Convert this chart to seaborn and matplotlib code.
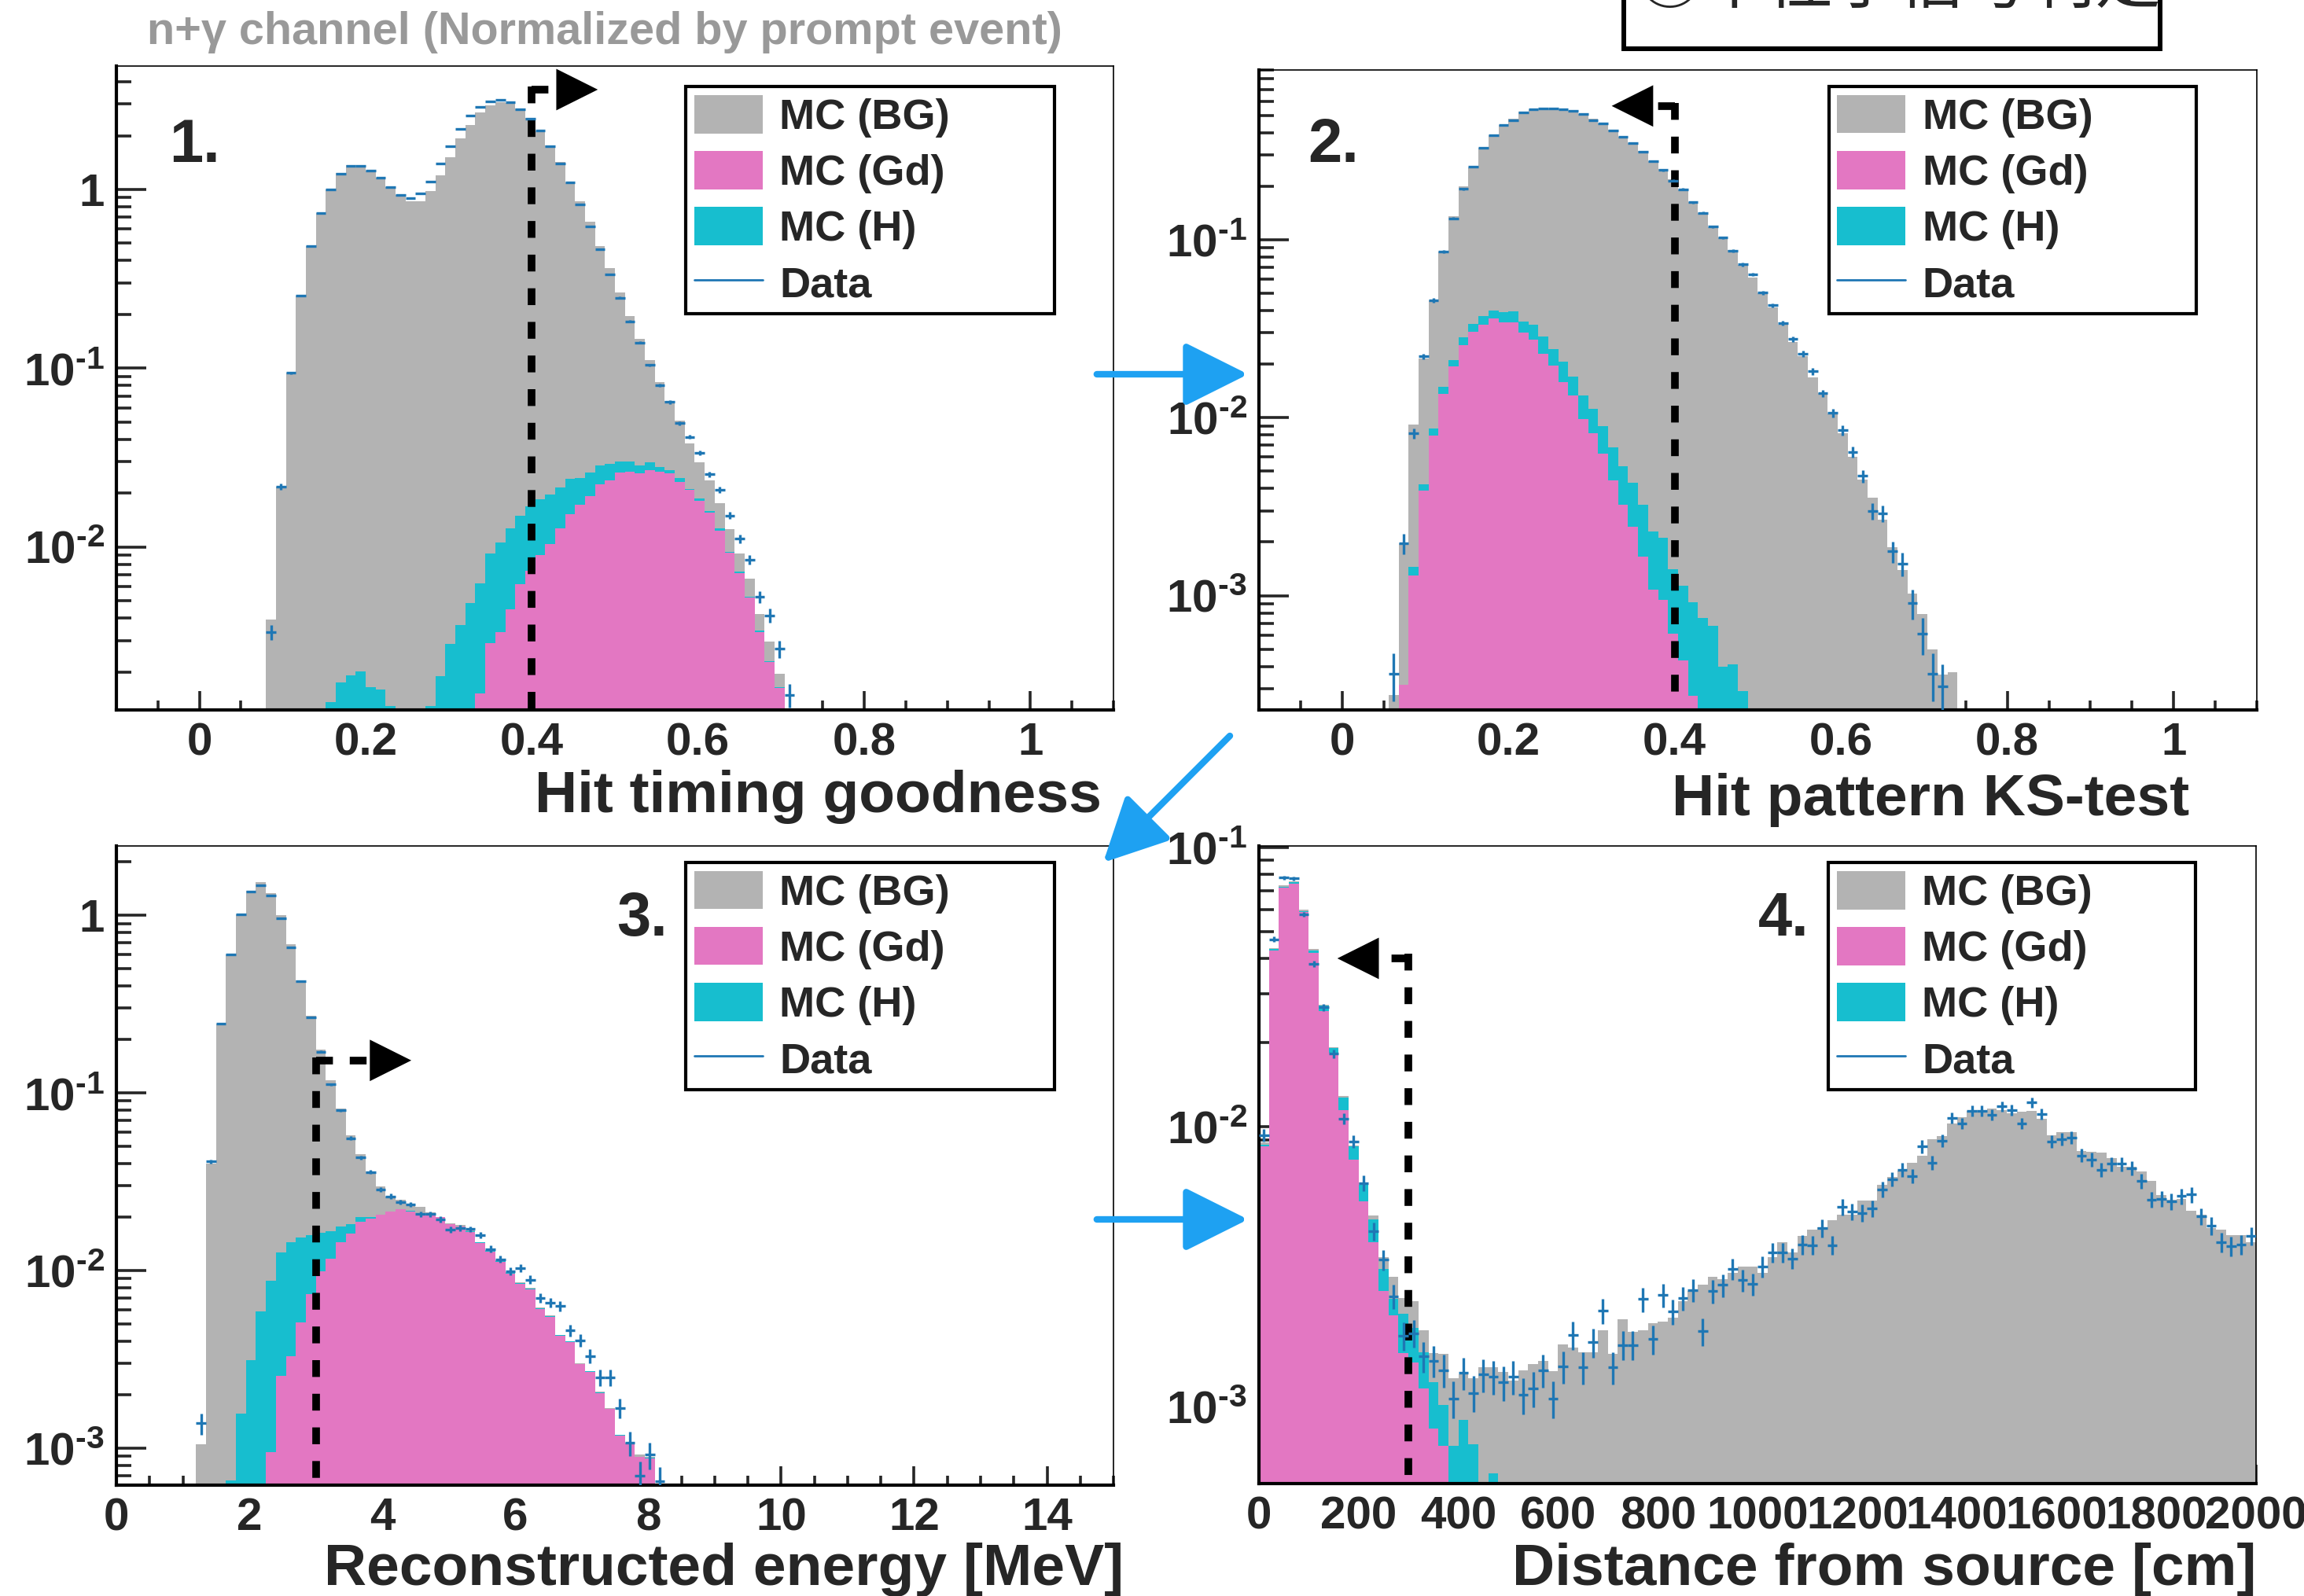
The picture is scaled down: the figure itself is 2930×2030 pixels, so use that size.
import numpy as np
import pandas as pd
import matplotlib
matplotlib.use("Agg")
import matplotlib.pyplot as plt
import seaborn as sns
from matplotlib.patches import Patch, Rectangle
from matplotlib.lines import Line2D
from matplotlib.ticker import MultipleLocator, LogLocator, FuncFormatter, NullFormatter

# ===== data: normalized entries per bin =====
# 1. hit timing goodness, bin width 0.012 starting at 0.08
good_start, good_width = 0.08, 0.012
good_bg = [3.94e-3, 0.0217, 0.094, 0.255, 0.483, 0.740, 1.00, 1.24, 1.365, 1.365,
           1.28, 1.16, 1.03, 0.93, 0.863, 0.863, 0.975, 1.20, 1.52, 1.93,
           2.30, 2.70, 2.94, 3.08, 3.04, 2.83, 2.52, 2.11, 1.76, 1.42,
           1.10, 0.863, 0.658, 0.483, 0.364, 0.266, 0.195, 0.146, 0.111, 0.0832,
           0.0654, 0.0507, 0.0380, 0.0297, 0.0235, 0.0175, 0.0126, 9.2e-3, 6.67e-3, 4.2e-3,
           2.97e-3, 1.96e-3]
good_h = [0, 0, 0, 0, 0, 0, 1.35e-3, 1.74e-3, 1.91e-3, 2.01e-3,
          1.65e-3, 1.59e-3, 1.29e-3, 0, 0, 0, 1.29e-3, 1.89e-3, 2.86e-3, 3.67e-3,
          4.85e-3, 6.27e-3, 9.2e-3, 0.0106, 0.0127, 0.0149, 0.0168, 0.0185, 0.0197, 0.0216,
          0.0240, 0.0243, 0.0260, 0.0286, 0.0291, 0.0302, 0.0302, 0.0285, 0.0297, 0.0279,
          0.0270, 0.0244, 0.0210, 0.0187, 0.0159, 0.0127, 9.4e-3, 7.3e-3, 5.25e-3, 3.39e-3,
          2.30e-3, 1.65e-3]
good_gd = [0] * 21 + [1.52e-3, 2.89e-3, 3.34e-3, 4.48e-3, 6.17e-3, 7.34e-3, 9.0e-3, 0.0104, 0.0127,
                      0.0153, 0.0173, 0.0192, 0.0225, 0.0235, 0.0261, 0.0264, 0.0257, 0.0270, 0.0264,
                      0.0257, 0.0231, 0.0208, 0.0182, 0.0155, 0.0123, 9.3e-3, 7.1e-3, 5.2e-3, 3.35e-3,
                      2.27e-3, 1.63e-3]
good_data = [3.34e-3, 0.0217, 0.094, 0.255, 0.483, 0.740, 1.00, 1.23, 1.36, 1.36,
             1.28, 1.16, 1.03, 0.93, 0.891, 0.951, 1.11, 1.39, 1.75, 2.18,
             2.59, 2.90, 3.10, 3.17, 3.09, 2.82, 2.49, 2.13, 1.75, 1.40,
             1.10, 0.828, 0.624, 0.465, 0.336, 0.248, 0.183, 0.139, 0.104, 0.080,
             0.0647, 0.0493, 0.0413, 0.0336, 0.0255, 0.0208, 0.0150, 0.0111, 8.5e-3, 5.25e-3,
             4.13e-3, 2.70e-3, 1.49e-3]

# 2. hit pattern KS-test, bin width 0.012 starting at 0.056
ks_start, ks_width = 0.056, 0.012
ks_bg = [2.77e-4, 1.96e-3, 9.16e-3, 0.0214, 0.0456, 0.0861, 0.1356, 0.1986, 0.256, 0.328,
         0.385, 0.440, 0.481, 0.524, 0.540, 0.548, 0.548, 0.542, 0.528, 0.509,
         0.481, 0.451, 0.414, 0.378, 0.350, 0.315, 0.277, 0.249, 0.219, 0.191,
         0.163, 0.141, 0.118, 0.1025, 0.0875, 0.0723, 0.061, 0.050, 0.0417, 0.0334,
         0.0266, 0.0221, 0.0169, 0.0137, 0.0105, 8.16e-3, 6.04e-3, 4.51e-3, 3.55e-3, 2.66e-3,
         1.88e-3, 1.39e-3, 1.03e-3, 7.87e-4, 5.0e-4, 3.6e-4, 3.7e-4]
ks_h = [0, 3.16e-4, 1.45e-3, 4.21e-3, 8.69e-3, 0.0149, 0.0210, 0.0282, 0.0338, 0.0371,
        0.0399, 0.0391, 0.0395, 0.0346, 0.0332, 0.0285, 0.0243, 0.0206, 0.0171, 0.0133,
        0.0112, 8.98e-3, 6.81e-3, 5.34e-3, 4.33e-3, 3.23e-3, 2.30e-3, 2.11e-3, 1.41e-3, 1.14e-3,
        9.2e-4, 7.46e-4, 6.78e-4, 3.99e-4, 4.10e-4, 2.9e-4]
ks_gd = [0, 3.16e-4, 1.30e-3, 3.91e-3, 7.94e-3, 0.0136, 0.0195, 0.0255, 0.0303, 0.0332,
         0.0360, 0.0343, 0.0343, 0.0300, 0.0275, 0.0229, 0.0196, 0.0159, 0.0133, 9.8e-3,
         8.17e-3, 6.27e-3, 4.44e-3, 3.23e-3, 2.45e-3, 1.65e-3, 1.08e-3, 9.46e-4, 6.1e-4, 4.32e-4,
         2.73e-4]
ks_data = [3.65e-4, 1.96e-3, 8.16e-3, 0.0221, 0.0456, 0.0861, 0.132, 0.193, 0.258, 0.328,
           0.3875, 0.440, 0.47, 0.52, 0.54, 0.547, 0.547, 0.54, 0.528, 0.51,
           0.47, 0.45, 0.41, 0.378, 0.35, 0.311, 0.277, 0.246, 0.215, 0.1924,
           0.1624, 0.1416, 0.1183, 0.1026, 0.0869, 0.0726, 0.0639, 0.0505, 0.0428, 0.0340,
           0.0277, 0.0229, 0.0182, 0.0137, 0.01064, 8.5e-3, 6.43e-3, 4.70e-3, 2.98e-3, 2.90e-3,
           1.77e-3, 1.51e-3, 9.06e-4, 6.09e-4, 3.65e-4, 3.1e-4]

# 3. reconstructed energy [MeV], bin width 0.15 starting at 1.2
ene_start, ene_width = 1.2, 0.15
ene_bg = [1.05e-3, 0.0401, 0.245, 0.604, 1.01, 1.38, 1.53, 1.33, 1.0, 0.686,
          0.431, 0.271, 0.176, 0.1176, 0.0817, 0.058, 0.0452, 0.036, 0.0299, 0.0262,
          0.0251, 0.0238, 0.0229, 0.0212, 0.0201, 0.0185, 0.0180, 0.0170, 0.0145, 0.0130,
          0.0114, 9.8e-3, 8.6e-3, 8.0e-3, 6.2e-3, 5.6e-3, 4.35e-3, 4.0e-3, 3.0e-3, 2.72e-3,
          2.08e-3, 1.68e-3, 1.19e-3, 1.07e-3, 9.2e-4, 8.9e-4]
ene_h = [0, 0, 0, 6.6e-4, 1.56e-3, 3.14e-3, 5.9e-3, 8.8e-3, 0.0127, 0.0145,
         0.0153, 0.0159, 0.0163, 0.0166, 0.0177, 0.0182, 0.0201, 0.0200, 0.0205, 0.0212,
         0.0222, 0.0217, 0.0209, 0.0208, 0.0201, 0.0183, 0.0178, 0.0166, 0.0144, 0.0129,
         0.0113, 9.7e-3, 8.5e-3, 7.9e-3, 6.15e-3, 5.55e-3, 4.32e-3, 3.99e-3, 2.99e-3, 2.71e-3,
         2.06e-3, 1.67e-3, 1.185e-3, 1.065e-3, 8.95e-4, 8.85e-4]
ene_gd = [0, 0, 0, 0, 0, 0, 0, 9.5e-4, 2.56e-3, 3.29e-3,
          5.1e-3, 7.4e-3, 9.9e-3, 0.0117, 0.0145, 0.0161, 0.0189, 0.0196, 0.0207, 0.0215,
          0.0221, 0.0216, 0.0208, 0.0207, 0.020, 0.0182, 0.0177, 0.0165, 0.0143, 0.0128,
          0.0112, 9.6e-3, 8.4e-3, 7.8e-3, 6.1e-3, 5.5e-3, 4.3e-3, 3.97e-3, 2.98e-3, 2.7e-3,
          2.05e-3, 1.66e-3, 1.18e-3, 1.06e-3, 8.9e-4, 8.8e-4]
ene_data = [1.38e-3, 0.0411, 0.245, 0.604, 1.01, 1.36, 1.475, 1.29, 0.967, 0.657,
            0.425, 0.267, 0.171, 0.112, 0.0797, 0.0557, 0.0433, 0.0359, 0.0287, 0.0262,
            0.0243, 0.0236, 0.0208, 0.0208, 0.0194, 0.0170, 0.0174, 0.0171, 0.0159, 0.0132,
            0.0116, 9.9e-3, 0.0103, 8.9e-3, 7.0e-3, 6.6e-3, 6.3e-3, 4.6e-3, 4.05e-3, 3.3e-3,
            2.5e-3, 2.5e-3, 1.68e-3, 1.07e-3, 7.0e-4, 9.2e-4, 6.5e-4]

# 4. distance from source [cm], bin width 20 starting at 0
dist_start, dist_width = 0.0, 20.0
dist_bg = [8.8e-3, 0.0435, 0.0730, 0.0755, 0.0597, 0.0432, 0.0274, 0.0193, 0.0129, 8.6e-3,
           6.33e-3, 4.81e-3, 3.42e-3, 2.91e-3, 2.44e-3, 2.38e-3, 1.87e-3, 1.55e-3, 1.54e-3, 1.26e-3,
           1.30e-3, 1.26e-3, 1.38e-3, 1.38e-3, 1.33e-3, 1.24e-3, 1.35e-3, 1.42e-3, 1.46e-3, 1.34e-3,
           1.67e-3, 1.62e-3, 1.56e-3, 1.56e-3, 1.87e-3, 1.54e-3, 2.05e-3, 1.85e-3, 1.88e-3, 1.98e-3,
           2.01e-3, 2.08e-3, 2.38e-3, 2.59e-3, 2.72e-3, 2.91e-3, 2.86e-3, 3.01e-3, 3.16e-3, 3.16e-3,
           3.0e-3, 3.42e-3, 3.87e-3, 3.56e-3, 4.07e-3, 4.28e-3, 4.38e-3, 4.63e-3, 4.85e-3, 4.85e-3,
           5.47e-3, 5.47e-3, 6.19e-3, 6.62e-3, 6.97e-3, 7.45e-3, 7.91e-3, 9.03e-3, 9.25e-3, 0.0103,
           0.0108, 0.0114, 0.0115, 0.0116, 0.0115, 0.0112, 0.0113, 0.0114, 0.0107, 9.35e-3,
           9.57e-3, 9.57e-3, 8.18e-3, 8.15e-3, 8.10e-3, 7.75e-3, 7.19e-3, 7.19e-3, 6.91e-3, 6.40e-3,
           5.69e-3, 5.50e-3, 5.53e-3, 5.01e-3, 4.85e-3, 4.35e-3, 4.28e-3, 4.10e-3, 4.10e-3, 3.87e-3]
dist_h = [8.66e-3, 0.0432, 0.0723, 0.0748, 0.0591, 0.0428, 0.0271, 0.0191, 0.0127, 8.51e-3,
          6.19e-3, 4.66e-3, 3.11e-3, 2.42e-3, 2.15e-3, 1.91e-3, 1.56e-3, 1.22e-3, 1.01e-3, 7.23e-4,
          8.93e-4, 7.31e-4, 0, 5.75e-4]
dist_gd = [8.51e-3, 0.0428, 0.0716, 0.0741, 0.0586, 0.0419, 0.0259, 0.0184, 0.0115, 7.64e-3,
           5.41e-3, 3.87e-3, 2.59e-3, 2.12e-3, 1.55e-3, 1.44e-3, 1.16e-3, 8.35e-4, 7.23e-4]
dist_data = [9.35e-3, 0.0468, 0.0778, 0.0773, 0.0575, 0.0383, 0.0268, 0.0183, 0.0107, 8.89e-3,
             6.30e-3, 4.24e-3, 3.35e-3, 2.48e-3, 1.79e-3, 1.83e-3, 1.51e-3, 1.46e-3, 1.35e-3, 1.07e-3,
             1.32e-3, 1.12e-3, 1.30e-3, 1.28e-3, 1.22e-3, 1.28e-3, 1.10e-3, 1.16e-3, 1.35e-3, 1.07e-3,
             1.39e-3, 1.80e-3, 1.38e-3, 1.70e-3, 2.20e-3, 1.38e-3, 1.66e-3, 1.66e-3, 2.42e-3, 1.74e-3,
             2.50e-3, 2.19e-3, 2.44e-3, 2.61e-3, 1.86e-3, 2.59e-3, 2.72e-3, 3.11e-3, 2.83e-3, 2.74e-3,
             3.16e-3, 3.56e-3, 3.56e-3, 3.38e-3, 3.80e-3, 3.78e-3, 4.35e-3, 3.78e-3, 5.18e-3, 4.98e-3,
             4.93e-3, 5.10e-3, 5.98e-3, 6.51e-3, 7.03e-3, 6.68e-3, 8.51e-3, 7.45e-3, 8.92e-3, 0.01076,
             0.0103, 0.0114, 0.0114, 0.01106, 0.01183, 0.0115, 0.0103, 0.01223, 0.01113, 8.87e-3,
             9.03e-3, 9.17e-3, 7.91e-3, 7.65e-3, 7.03e-3, 7.37e-3, 7.37e-3, 7.13e-3, 6.40e-3, 5.50e-3,
             5.53e-3, 5.41e-3, 5.66e-3, 5.73e-3, 4.79e-3, 4.43e-3, 3.87e-3, 3.74e-3, 3.80e-3, 4.07e-3]

legend_labels = ["MC (BG)", "MC (Gd)", "MC (H)", "Data"]

# colours
C_BG = "#b3b3b3"
C_GD = "#e377c2"
C_H = "#17becf"
C_DATA = "#1f77b4"

sns.set_style("white")
plt.rcParams["font.family"] = ["Liberation Sans", "DejaVu Sans"]
plt.rcParams["font.weight"] = "bold"
plt.rcParams["mathtext.fontset"] = "custom"
plt.rcParams["mathtext.rm"] = "Liberation Sans:bold"
plt.rcParams["mathtext.bf"] = "Liberation Sans:bold"
plt.rcParams["mathtext.default"] = "bf"

HYPHEN = "\u2010"


def hist_fill(ax, start, width, values, color):
    n = len(values)
    centers = start + width * (np.arange(n) + 0.5)
    df = pd.DataFrame({"x": centers, "w": values})
    sns.histplot(data=df, x="x", weights="w", bins=n, binrange=(start, start + width * n),
                 element="step", fill=True, color=color, alpha=1, linewidth=0, ax=ax)


def data_points(ax, start, width, values, norm):
    v = np.array(values)
    x = start + width * (np.arange(len(v)) + 0.5)
    ax.errorbar(x, v, xerr=width / 2, yerr=np.sqrt(v / norm), fmt="none",
                ecolor=C_DATA, elinewidth=2.4, capsize=0, zorder=6)


def log_label(v, pos):
    if abs(v - 1) < 1e-9:
        return "1"
    # ROOT-style short hyphen in the exponent
    return "$10^{" + HYPHEN + "%d}$" % abs(int(round(np.log10(v))))


def style_axes(ax, ylim, xlim, major, minor, xfmt):
    ax.set_yscale("log")
    ax.set_ylim(*ylim)
    ax.set_xlim(*xlim)
    ax.xaxis.set_major_locator(MultipleLocator(major))
    ax.xaxis.set_minor_locator(MultipleLocator(minor))
    ax.xaxis.set_major_formatter(FuncFormatter(xfmt))
    ax.yaxis.set_major_locator(LogLocator(base=10))
    ax.yaxis.set_minor_locator(LogLocator(base=10, subs=np.arange(2, 10)))
    ax.yaxis.set_major_formatter(FuncFormatter(log_label))
    ax.yaxis.set_minor_formatter(NullFormatter())
    ax.tick_params(axis="x", which="major", direction="in", length=17, width=2.6,
                   labelsize=42, pad=11, top=False, bottom=True)
    ax.tick_params(axis="x", which="minor", direction="in", length=9, width=2.6,
                   top=False, bottom=True)
    ax.tick_params(axis="y", which="major", direction="in", length=27, width=2.6,
                   labelsize=42, pad=11, right=False, left=True)
    ax.tick_params(axis="y", which="minor", direction="in", length=14, width=2.6,
                   right=False, left=True)
    for s in ["left", "bottom"]:
        ax.spines[s].set_linewidth(3)
        ax.spines[s].set_color("black")
    for s in ["top", "right"]:
        ax.spines[s].set_linewidth(1.2)
        ax.spines[s].set_color("black")
    ax.set_ylabel("")
    ax.grid(False)


def add_legend(ax, x0, y0, w):
    handles = [Patch(facecolor=C_BG, edgecolor="none"),
               Patch(facecolor=C_GD, edgecolor="none"),
               Patch(facecolor=C_H, edgecolor="none"),
               Line2D([], [], color=C_DATA, lw=2)]
    leg = ax.legend(handles, legend_labels, loc="upper left", bbox_to_anchor=(x0, y0, w, 0),
                    mode="expand", borderaxespad=0, frameon=True, fancybox=False,
                    prop={"family": "Liberation Sans", "weight": "bold", "size": 39},
                    handlelength=1.6, handleheight=1.0, handletextpad=0.4,
                    labelspacing=0.32, borderpad=0.2)
    leg.get_frame().set_edgecolor("black")
    leg.get_frame().set_linewidth(3)
    leg.get_frame().set_alpha(1)


def cut_line(ax, xcut, ytop, ybottom, xend, xtip):
    dash = (0, (2.2, 2.2))
    yarr = ytop * 0.965
    ax.plot([xcut, xcut], [ytop, ybottom], color="black", lw=7, linestyle=dash, zorder=5)
    ax.plot([xcut, xend], [yarr, yarr], color="black", lw=7, linestyle=dash, zorder=5)
    ax.annotate("", xy=(xtip, yarr), xytext=(xend, yarr),
                arrowprops=dict(arrowstyle="-|>", mutation_scale=95, lw=0, color="black"),
                zorder=5)


fig = plt.figure(figsize=(29.3, 20.3), dpi=100)

panels = [
    dict(rect=[0.0505, 0.5552, 0.4328, 0.4034], start=good_start, width=good_width,
         bg=good_bg, h=good_h, gd=good_gd, data=good_data, norm=3.0e4,
         ylim=(1.225e-3, 4.9), xlim=(-0.1, 1.1), major=0.2, minor=0.05,
         xlabel="Hit timing goodness", lab_xy=(0.988, -0.093), tag="1.", tag_xy=(0.053, 0.851),
         leg=(0.571, 0.968, 0.370), cut=(0.4, 3.75, 1.225e-3, 0.44, 0.482)),
    dict(rect=[0.5464, 0.5552, 0.4331, 0.4010], start=ks_start, width=ks_width,
         bg=ks_bg, h=ks_h, gd=ks_gd, data=ks_data, norm=3.0e4,
         ylim=(2.28e-4, 0.9), xlim=(-0.1, 1.1), major=0.2, minor=0.05,
         xlabel="Hit pattern KS-test", lab_xy=(0.932, -0.098), tag="2.", tag_xy=(0.049, 0.856),
         leg=(0.571, 0.974, 0.368), cut=(0.4, 0.585, 2.28e-4, 0.362, 0.3216)),
    dict(rect=[0.0505, 0.0695, 0.4328, 0.4005], start=ene_start, width=ene_width,
         bg=ene_bg, h=ene_h, gd=ene_gd, data=ene_data, norm=3.7e4,
         ylim=(6.2e-4, 2.46), xlim=(0, 15), major=2, minor=0.5,
         xlabel="Reconstructed energy [MeV]", lab_xy=(1.010, -0.090), tag="3.", tag_xy=(0.502, 0.860),
         leg=(0.571, 0.974, 0.370), cut=(3.0, 0.158, 6.2e-4, 3.95, 4.47)),
    dict(rect=[0.5464, 0.0704, 0.4328, 0.3995], start=dist_start, width=dist_width,
         bg=dist_bg, h=dist_h, gd=dist_gd, data=dist_data, norm=4.2e4,
         ylim=(5.3e-4, 0.101), xlim=(0, 2000), major=200, minor=50,
         xlabel="Distance from source [cm]", lab_xy=(1.0, -0.092), tag="4.", tag_xy=(0.501, 0.860),
         leg=(0.571, 0.974, 0.368), cut=(300, 0.0415, 5.3e-4, 225, 153)),
]


def xfmt(v, pos):
    return "%g" % round(v, 6)


for p in panels:
    ax = fig.add_axes(p["rect"])
    hist_fill(ax, p["start"], p["width"], p["bg"], C_BG)
    hist_fill(ax, p["start"], p["width"], p["h"], C_H)
    hist_fill(ax, p["start"], p["width"], p["gd"], C_GD)
    style_axes(ax, p["ylim"], p["xlim"], p["major"], p["minor"], xfmt)
    cut_line(ax, *p["cut"])
    data_points(ax, p["start"], p["width"], p["data"], p["norm"])
    ax.set_ylim(*p["ylim"])
    ax.set_xlim(*p["xlim"])
    ax.set_xlabel(p["xlabel"], loc="right", fontsize=54, fontweight="bold")
    ax.xaxis.set_label_coords(*p["lab_xy"])
    ax.text(p["tag_xy"][0], p["tag_xy"][1], p["tag"], transform=ax.transAxes,
            fontsize=56, fontweight="bold", va="baseline", ha="left")
    add_legend(ax, *p["leg"])

# overlay in pixel coordinates for the page decorations
ov = fig.add_axes([0, 0, 1, 1], zorder=10)
ov.set_xlim(0, 2930)
ov.set_ylim(2030, 0)
ov.axis("off")
ov.patch.set_alpha(0)

ov.text(187, 56, "n+\u03b3 channel (Normalized by prompt event)", fontsize=41.5,
        fontweight="bold", color="#999999", va="baseline", ha="left")

ov.add_patch(Rectangle((2065, -40), 682, 102, fill=False, edgecolor="black", lw=4.3,
                       clip_on=False))
ov.text(2081, 4, "\u2461\u4e2d\u6027\u5b50\u4fe1\u53f7\u5224\u5b9a", fontsize=60,
        family=["Noto Sans CJK JP", "DejaVu Sans"], va="baseline", ha="left",
        fontweight="normal")

arrow_kw = dict(arrowstyle="-|>", mutation_scale=125, lw=6, color="#1ea1f2")
ov.annotate("", xy=(1590, 476), xytext=(1392, 476), arrowprops=arrow_kw)
ov.annotate("", xy=(1401, 1099), xytext=(1566, 934), arrowprops=arrow_kw)
ov.annotate("", xy=(1590, 1551), xytext=(1392, 1551), arrowprops=arrow_kw)

fig.savefig("out.png", dpi=100)
